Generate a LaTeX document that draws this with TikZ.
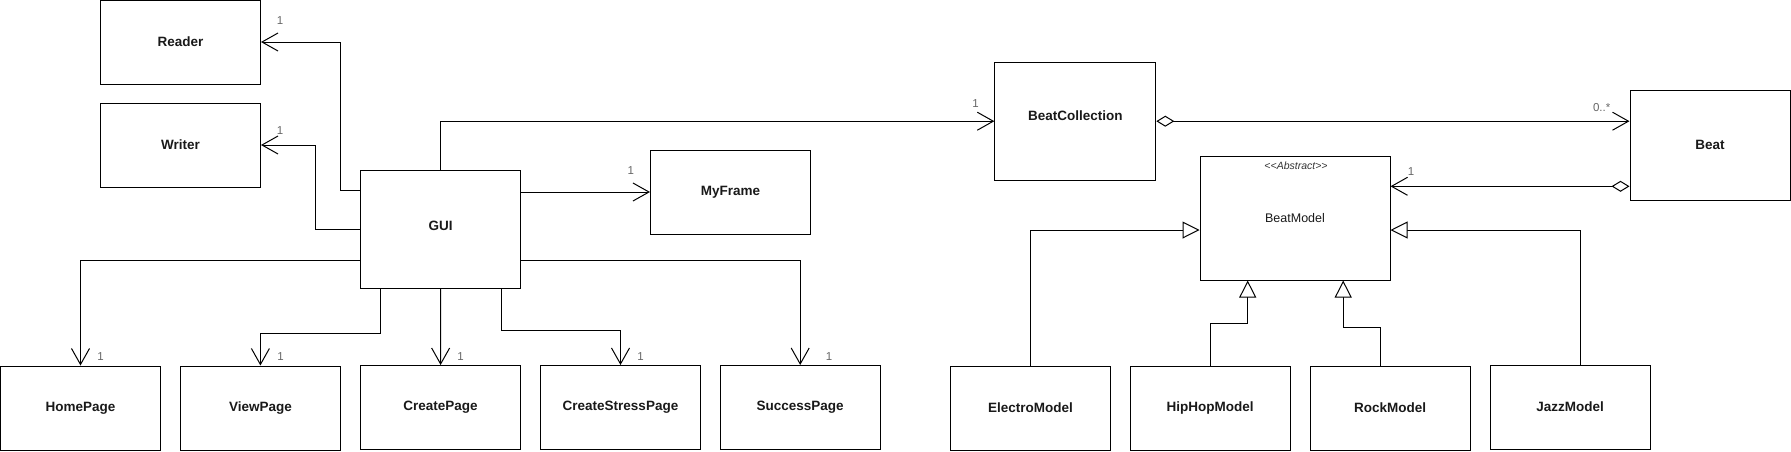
\documentclass[tikz,border=0pt]{standalone}
\usepackage{fontspec}
\setmainfont{Liberation Sans}
\usetikzlibrary{arrows.meta}
\definecolor{mult}{HTML}{666666}
\tikzset{
  cls/.style={draw, line width=1pt, minimum width=160pt, minimum height=84pt, inner sep=0pt,
    font=\fontsize{13.5}{15}\selectfont\bfseries, text=black!90},
  conn/.style={line width=1pt},
  assoc/.style={conn, -{Straight Barb[length=16pt,width=18pt,line width=1pt]}},
  gen/.style={conn, -{Triangle[open,length=17pt,width=17pt,line width=1pt,fill=white]}},
  agg/.style={conn, {Diamond[open,length=18pt,width=11pt,line width=1pt,fill=white]}-{Straight Barb[length=16pt,width=18pt,line width=1pt]}},
  mlab/.style={font=\fontsize{11.5}{13}\selectfont, text=mult, inner sep=0pt}
}
\begin{document}
\begin{tikzpicture}[x=1pt,y=-1pt]
\useasboundingbox (0,0) rectangle (1791,451);
% classes
\node[cls] (Reader) at (180.5,42) {Reader};
\node[cls] (Writer) at (180.5,145) {Writer};
\node[cls, minimum height=118pt, text depth=7pt] (GUI) at (440.7,229.3) {GUI};
\node[cls] (MyFrame) at (730.5,192) {MyFrame};
\node[cls, minimum width=161pt, minimum height=118pt, text depth=11pt] (BeatCollection) at (1075.3,121.2) {BeatCollection};
\node[cls, minimum height=110pt] (Beat) at (1710,145) {Beat};
\node[cls, minimum width=190pt, minimum height=124pt, font=\fontsize{12.5}{14}\selectfont] (BeatModel) at (1295,218) {BeatModel};
\node[font=\fontsize{10.5}{12}\selectfont\itshape, text=black!80, inner sep=0pt] (abs) at (1296,166) {<\kern0pt<Abstract>\kern0pt>};
\node[cls] (HomePage) at (80.5,408) {HomePage};
\node[cls] (ViewPage) at (260.4,408) {ViewPage};
\node[cls] (CreatePage) at (440.6,407.5) {CreatePage};
\node[cls] (CreateStressPage) at (620.5,407.5) {CreateStressPage};
\node[cls] (SuccessPage) at (800.2,407.5) {SuccessPage};
\node[cls] (ElectroModel) at (1030.4,408) {ElectroModel};
\node[cls] (HipHopModel) at (1210.2,408) {HipHopModel};
\node[cls] (RockModel) at (1390,408) {RockModel};
\node[cls] (JazzModel) at (1570.1,407) {JazzModel};
% helper coordinates
\coordinate (yr) at (0,190.3);
\coordinate (xr) at (340.6,0);
\coordinate (xw) at (315.3,0);
\coordinate (bus) at (0,260.3);
\coordinate (xv) at (380.6,0);
\coordinate (yv) at (0,333.3);
\coordinate (xs) at (501.1,0);
\coordinate (ys) at (0,330.3);
\coordinate (yagg) at (0,186.3);
\coordinate (ygen) at (0,230);
\coordinate (xhh) at (1247.7,0);
\coordinate (yhh) at (0,323);
\coordinate (xrk) at (1343.2,0);
\coordinate (yrk) at (0,327.7);
\coordinate (xrkb) at (1380,0);
\coordinate (xjz) at (1580,0);
% GUI associations
\draw[assoc] (GUI.west|-yr) -- (xr|-yr) |- (Reader.east);
\draw[assoc] (GUI.west|-GUI.center) -- (xw|-GUI.center) |- (Writer.east);
\draw[assoc] (GUI.north) |- (BeatCollection.west|-BeatCollection.center);
\draw[assoc] (GUI.east|-MyFrame.west) -- (MyFrame.west);
\draw[assoc] (GUI.west|-bus) -| (HomePage.north);
\draw[assoc] (GUI.east|-bus) -| (SuccessPage.north);
\draw[assoc] (GUI.south-|xv) -- (xv|-yv) -| (ViewPage.north);
\draw[assoc] (GUI.south) -- (CreatePage.north);
\draw[assoc] (GUI.south-|xs) -- (xs|-ys) -| (CreateStressPage.north);
% aggregations
\draw[agg] (BeatCollection.east|-BeatCollection.center) -- (Beat.west|-BeatCollection.center);
\draw[agg] (Beat.west|-yagg) -- (BeatModel.east|-yagg);
% generalizations
\draw[gen] (ElectroModel.north) |- (BeatModel.west|-ygen);
\draw[gen] (JazzModel.north-|xjz) |- (BeatModel.east|-ygen);
\draw[gen] (HipHopModel.north) -- (HipHopModel.north|-yhh) -| (BeatModel.south-|xhh);
\draw[gen] (RockModel.north-|xrkb) -- (xrkb|-yrk) -| (BeatModel.south-|xrk);
% multiplicities
\node[mlab] (m1) at (280,20.7) {1};
\node[mlab] (m2) at (280,131) {1};
\node[mlab] (m3) at (975.6,104) {1};
\node[mlab] (m4) at (630.7,171) {1};
\node[mlab] (m5) at (1601.7,107.3) {0..*};
\node[mlab] (m6) at (1411,171.7) {1};
\node[mlab] (m7) at (100.5,356.7) {1};
\node[mlab] (m8) at (280.5,356.7) {1};
\node[mlab] (m9) at (460.6,356.7) {1};
\node[mlab] (m10) at (640.5,356.7) {1};
\node[mlab] (m11) at (829,356.7) {1};
\end{tikzpicture}
\end{document}
